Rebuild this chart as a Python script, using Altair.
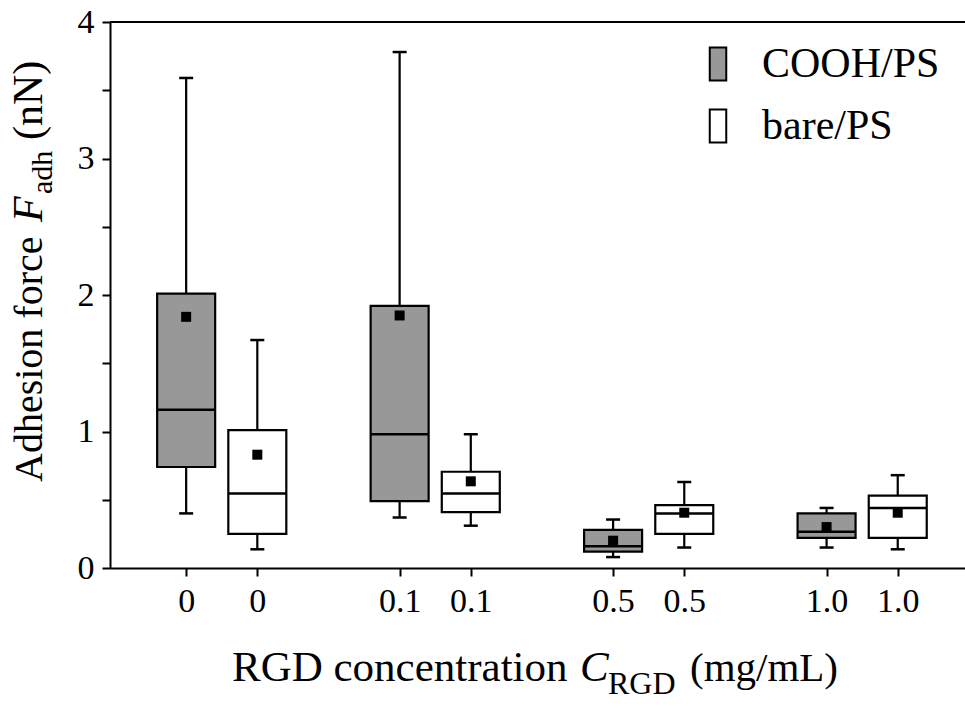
import altair as alt
import pandas as pd

# ---- data ----
concentrations = ["0", "0.1", "0.5", "1.0"]
series = ["COOH/PS", "bare/PS"]

cooh_whisker_low = [0.40, 0.37, 0.08, 0.15]
cooh_q1 = [0.74, 0.49, 0.12, 0.22]
cooh_median = [1.16, 0.98, 0.16, 0.265]
cooh_q3 = [2.01, 1.92, 0.28, 0.40]
cooh_whisker_high = [3.59, 3.78, 0.355, 0.44]
cooh_mean = [1.84, 1.85, 0.20, 0.30]

bare_whisker_low = [0.137, 0.31, 0.15, 0.137]
bare_q1 = [0.25, 0.41, 0.25, 0.22]
bare_median = [0.545, 0.545, 0.40, 0.44]
bare_q3 = [1.01, 0.705, 0.46, 0.53]
bare_whisker_high = [1.67, 0.98, 0.63, 0.68]
bare_mean = [0.83, 0.635, 0.405, 0.405]

FONT = "Liberation Serif"
GRAY = "#989898"

stats = {
    "COOH/PS": (cooh_whisker_low, cooh_q1, cooh_median, cooh_q3, cooh_whisker_high, cooh_mean),
    "bare/PS": (bare_whisker_low, bare_q1, bare_median, bare_q3, bare_whisker_high, bare_mean),
}

rows = []
for gi, conc in enumerate(concentrations):
    for si, s in enumerate(series):
        lo, q1, med, q3, hi, mean = (arr[gi] for arr in stats[s])
        rows.append(dict(slot=3 * gi + 1 + si, conc=conc, series=s,
                         lo=lo, q1=q1, med=med, q3=q3, hi=hi, mean=mean))
df = pd.DataFrame(rows)

slot_labels = [""] * 12
for gi, conc in enumerate(concentrations):
    slot_labels[3 * gi + 1] = conc
    slot_labels[3 * gi + 2] = conc
label_expr = "[" + ",".join("'%s'" % l for l in slot_labels) + "][datum.value]"

W, H = 855, 546

x_enc = alt.X("slot:Q",
              scale=alt.Scale(domain=[0, 11.875], nice=False, zero=False),
              axis=alt.Axis(values=[r["slot"] for r in rows], labelExpr=label_expr,
                            title=None, grid=False, domainColor="black", domainWidth=2,
                            tickColor="black", tickWidth=2, tickSize=8,
                            labelFont=FONT, labelFontSize=34, labelColor="black",
                            labelPadding=8, labelFlush=False, labelOverlap=False))
y_scale = alt.Scale(domain=[0, 4], nice=False, zero=True)
y_axis = alt.Axis(values=[i * 0.5 for i in range(9)],
                  labelExpr="datum.value % 1 === 0 ? format(datum.value, 'd') : ''",
                  title=None, grid=False, domainColor="black", domainWidth=2,
                  tickColor="black", tickWidth=2, tickSize=8,
                  labelFont=FONT, labelFontSize=34, labelColor="black",
                  labelPadding=8, labelFlush=False, labelOverlap=False)

base = alt.Chart(df)

whiskers = base.mark_rule(color="black", strokeWidth=2.2).encode(
    x=x_enc, y=alt.Y("lo:Q", scale=y_scale, axis=y_axis), y2="hi:Q")

caps_lo = base.mark_tick(orient="horizontal", size=14, thickness=2.5, color="black",
                         opacity=1).encode(x="slot:Q", y="lo:Q")
caps_hi = base.mark_tick(orient="horizontal", size=14, thickness=2.5, color="black",
                         opacity=1).encode(x="slot:Q", y="hi:Q")

boxes = base.mark_bar(size=58, stroke="black", strokeWidth=2.2, opacity=1).encode(
    x="slot:Q", y="q1:Q", y2="q3:Q",
    fill=alt.Fill("series:N",
                  scale=alt.Scale(domain=series, range=[GRAY, "white"]),
                  legend=alt.Legend(orient="none", legendX=587, legendY=21, title=None,
                                    padding=0,
                                    symbolType="M-0.5,-1H0.5V1H-0.5Z", symbolSize=1089,
                                    symbolStrokeColor="black", symbolStrokeWidth=2,
                                    symbolOpacity=1,
                                    labelFont=FONT, labelFontSize=42, labelColor="black",
                                    labelOffset=23, rowPadding=20, labelLimit=400)))

medians = base.mark_tick(orient="horizontal", size=58, thickness=2.5, color="black",
                         opacity=1).encode(x="slot:Q", y="med:Q")

means = base.mark_square(size=100, color="black", opacity=1, filled=True).encode(
    x="slot:Q", y="mean:Q")

one = pd.DataFrame({"a": [0]})
top_border = alt.Chart(one).mark_rule(color="black", strokeWidth=2).encode(
    x=alt.value(0), x2=alt.value(W), y=alt.value(0))


def txt(s, x, y, size=42, style="normal", angle=0):
    return alt.Chart(one).mark_text(text=s, font=FONT, fontSize=size, fontStyle=style,
                                    align="left", baseline="alphabetic", angle=angle,
                                    color="black").encode(x=alt.value(x), y=alt.value(y))


# y-axis title: Adhesion force  F_adh (nN)
ytitle = [
    txt("Adhesion force", -68, 460, size=40, angle=270),
    txt("F", -68, 200, style="italic", angle=270),
    txt("adh", -58, 172, size=30, angle=270),
    txt("(nN)", -68, 118, angle=270),
]
# x-axis title: RGD concentration  C_RGD (mg/mL)
xtitle = [
    txt("RGD concentration", 122, 659, size=43),
    txt("C", 470, 659, size=43, style="italic"),
    txt("RGD", 498, 672, size=32),
    txt("(mg/mL)", 580, 659, size=41),
]

chart = alt.layer(whiskers, caps_lo, caps_hi, boxes, medians, means, top_border,
                  *ytitle, *xtitle).properties(
    width=W, height=H,
    autosize=alt.AutoSizeParams(type="none"),
    padding={"left": 110, "top": 22, "right": 0, "bottom": 140},
).configure_view(stroke=None).configure(
    background="white", font=FONT
).configure_axis(labelFont=FONT, titleFont=FONT).configure_legend(
    labelFont=FONT, titleFont=FONT
).configure_text(font=FONT)

chart.save("out.html", embed_options={"renderer": "svg", "actions": False})
